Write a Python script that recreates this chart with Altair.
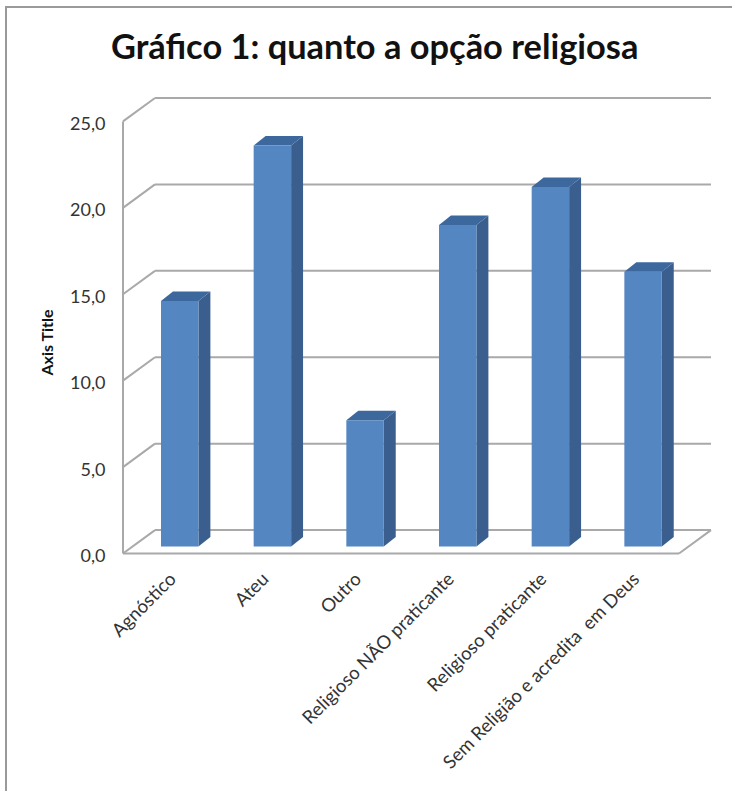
import altair as alt
import pandas as pd

# Survey shares by religious option (percent)
categories = ["Agnóstico", "Ateu", "Outro", "Religioso NÃO praticante",
              "Religioso praticante", "Sem Religião e acredita\u00a0 em Deus"]
values = [14.2, 23.2, 7.3, 18.6, 20.8, 15.9]
y_ticks = [0, 5, 10, 15, 20, 25]

# Projection of the pseudo-3D box, in data units
WALL_DX, WALL_DY = 0.345, 1.355
BAR_DX, BAR_DY = 0.129, 0.55
BAR_START, BAR_WIDTH = 0.41, 0.404
BAR_BASE = 0.405
X_MAX = len(categories) + WALL_DX
Y_MAX = 25 + WALL_DY

PLOT_W, PLOT_H = 588, 455.5
x_scale = alt.Scale(domain=[0, X_MAX], nice=False, zero=False)
y_scale = alt.Scale(domain=[0, Y_MAX], nice=False, zero=False)

WALL = "#a9a9a9"
FRONT = "#5486c1"
SIDE = "#3a5f8e"
TOP = "#3d689e"
TEXT = "#333333"
FONT = "Lato"

n = len(categories)
label_expr = "[" + ",".join(f"'{c}'" for c in categories) + "][floor(datum.value)]"

x_axis = alt.Axis(
    values=[i + 0.5 for i in range(n)], labelExpr=label_expr,
    labelAngle=-45, labelAlign="right", labelBaseline="middle",
    labelPadding=22, labelOffset=3, labelFontSize=18.5, labelFont=FONT, labelColor=TEXT,
    labelLimit=600, labelOverlap=False, labelBound=False, labelFlush=False,
    ticks=False, domain=False, grid=False)
y_axis = alt.Axis(
    values=y_ticks, labelExpr="replace(format(datum.value,'.1f'),'.',',')",
    labelPadding=18, labelFontSize=18, labelFont=FONT, labelColor=TEXT,
    labelOffset=3,
    ticks=False, domain=False, grid=False,
    titleFont=FONT, titleFontSize=16, titleFontWeight="bold", titleColor="#111111",
    titleX=-68, titleY=244, titleAngle=-90)

x_enc = alt.X("x:Q", scale=x_scale, title=None, axis=x_axis)
y_enc = alt.Y("y:Q", scale=y_scale, title="Axis Title", axis=y_axis)

# Wall and floor lines
segments = []
for t in y_ticks:
    segments.append(dict(x=0, x2=WALL_DX, y=t, y2=t + WALL_DY))
    segments.append(dict(x=WALL_DX, x2=n + WALL_DX, y=t + WALL_DY, y2=t + WALL_DY))
segments.append(dict(x=0, x2=0, y=0, y2=25))
segments.append(dict(x=0, x2=n, y=0, y2=0))
segments.append(dict(x=n, x2=n + WALL_DX, y=0, y2=WALL_DY))
segments = pd.DataFrame(segments)

walls = alt.Chart(segments).mark_rule(color=WALL, strokeWidth=2).encode(
    x=x_enc, x2="x2:Q", y=y_enc, y2="y2:Q")

# Bar faces
front_rows, side_rows, top_rows = [], [], []
for i, (cat, v) in enumerate(zip(categories, values)):
    x0 = i + BAR_START
    x1 = x0 + BAR_WIDTH
    y0 = BAR_BASE
    y1 = BAR_BASE + v
    front_rows.append(dict(cat=cat, x=x0, x2=x1, y=y0, y2=y1))
    side_rows += [dict(cat=cat, x=x1, y=y0, y2=y1),
                  dict(cat=cat, x=x1 + BAR_DX, y=y0 + BAR_DY, y2=y1 + BAR_DY)]
    top_rows += [dict(cat=cat, y=y1, x=x0, x2=x1),
                 dict(cat=cat, y=y1 + BAR_DY, x=x0 + BAR_DX, x2=x1 + BAR_DX)]

side = alt.Chart(pd.DataFrame(side_rows)).mark_area(color=SIDE, orient="vertical").encode(
    x=x_enc, y=y_enc, y2="y2:Q", detail="cat:N")
top = alt.Chart(pd.DataFrame(top_rows)).mark_area(color=TOP, orient="horizontal").encode(
    y=y_enc, x=x_enc, x2="x2:Q", detail="cat:N")
front = alt.Chart(pd.DataFrame(front_rows)).mark_rect(color=FRONT).encode(
    x=x_enc, x2="x2:Q", y=y_enc, y2="y2:Q")

# Outer chart frame along the top and left edges
frame_data = pd.DataFrame({"k": [0]})
frame_top = alt.Chart(frame_data).mark_rule(color="#9a9a9a", strokeWidth=2).encode(
    x=alt.value(-118), x2=alt.value(609), y=alt.value(-91))
frame_left = alt.Chart(frame_data).mark_rule(color="#9a9a9a", strokeWidth=2).encode(
    x=alt.value(-117), y=alt.value(-91), y2=alt.value(693))

# Chart heading, placed relative to the plot area
heading = alt.Chart(frame_data).mark_text(
    text="Gráfico 1: quanto a opção religiosa",
    align="left", baseline="alphabetic",
    font=FONT, fontSize=34.4, fontWeight="bold", color="#111111",
).encode(x=alt.value(-12), y=alt.value(-39))

chart = (
    alt.layer(walls, side, top, front, frame_top, frame_left, heading)
    .properties(
        width=PLOT_W,
        height=PLOT_H,
        padding={"left": 123, "top": 98, "right": 21, "bottom": 237},
        autosize=alt.AutoSizeParams(type="none"),
        background="white",
    )
    .configure_view(stroke=None)
)

chart.save("out.html", embed_options={"renderer": "svg", "actions": False})
